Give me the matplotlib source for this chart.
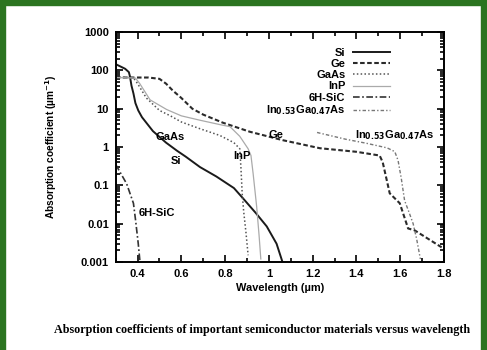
import matplotlib.pyplot as plt
from matplotlib.patches import Rectangle
from matplotlib.ticker import MultipleLocator, LogLocator, NullFormatter, FixedLocator, FixedFormatter

plt.rcParams['font.family'] = ['Liberation Sans', 'DejaVu Sans']
plt.rcParams['font.weight'] = 'bold'
plt.rcParams['axes.labelweight'] = 'bold'

# wavelength (um) / absorption coefficient (1/um)
si_wl = [0.30, 0.343, 0.36, 0.365, 0.372, 0.381, 0.39, 0.403, 0.42, 0.47, 0.53, 0.58, 0.62,
         0.685, 0.76, 0.84, 0.88, 0.94, 0.99, 1.035, 1.062]
si_a = [145, 110, 90, 70, 40, 25, 14, 9, 6.0, 2.6, 1.3, 0.8, 0.56,
        0.30, 0.17, 0.085, 0.047, 0.019, 0.0085, 0.003, 0.001]

ge_wl = [0.30, 0.45, 0.50, 0.53, 0.56, 0.60, 0.65, 0.70, 0.79, 0.913, 1.065, 1.233, 1.40,
         1.506, 1.52, 1.552, 1.598, 1.636, 1.666, 1.79]
ge_a = [65, 65, 60, 45, 30, 19, 10, 7, 4.3, 2.5, 1.5, 0.93, 0.75,
        0.6, 0.4, 0.062, 0.034, 0.0075, 0.0067, 0.0024]

gaas_wl = [0.30, 0.38, 0.40, 0.44, 0.50, 0.55, 0.60, 0.685, 0.776, 0.84, 0.867, 0.872,
           0.878, 0.885, 0.895, 0.905]
gaas_a = [66, 65, 45, 19, 9, 6.5, 4.5, 3.0, 2.0, 1.3, 0.9, 0.3,
          0.06, 0.02, 0.006, 0.0015]

inp_wl = [0.30, 0.39, 0.41, 0.457, 0.533, 0.60, 0.685, 0.78, 0.822, 0.867, 0.905, 0.918,
          0.928, 0.944, 0.955, 0.963]
inp_a = [65, 63, 45, 17, 9.5, 6.5, 5.0, 3.8, 3.4, 1.9, 0.9, 0.6,
         0.2, 0.028, 0.005, 0.0012]

sic_wl = [0.30, 0.32, 0.35, 0.381, 0.391, 0.403, 0.411]
sic_a = [0.35, 0.22, 0.11, 0.034, 0.012, 0.003, 0.001]

ingaas_wl = [1.22, 1.233, 1.35, 1.446, 1.54, 1.575, 1.59, 1.605, 1.62, 1.64, 1.659, 1.675, 1.692]
ingaas_a = [2.4, 2.3, 1.6, 1.25, 0.95, 0.76, 0.45, 0.15, 0.04, 0.02, 0.01, 0.004, 0.0012]

ingaas_tex = r'In$_{\mathbf{0.53}}$Ga$_{\mathbf{0.47}}$As'

fig = plt.figure(figsize=(4.87, 3.5), dpi=100)
# green frame of the slide
fig.patches.append(Rectangle((0, 0), 0.0103, 1, transform=fig.transFigure, color='#2b7420', zorder=-1))
fig.patches.append(Rectangle((0, 0.986), 1, 0.014, transform=fig.transFigure, color='#2b7420', zorder=-1))
fig.patches.append(Rectangle((0.988, 0), 0.012, 1, transform=fig.transFigure, color='#2b7420', zorder=-1))

ax = fig.add_axes([0.2376, 0.2514, 0.6741, 0.6571])

ax.plot(si_wl, si_a, color='#1a1a1a', lw=1.4, label='Si')
ax.plot(ge_wl, ge_a, color='#2a2a2a', lw=1.5, ls=(0, (2.2, 1.2)), label='Ge')
ax.plot(gaas_wl, gaas_a, color='#555555', lw=1.1, ls=(0, (1, 1.5)), label='GaAs')
ax.plot(inp_wl, inp_a, color='#aaaaaa', lw=0.9, label='InP')
ax.plot(sic_wl, sic_a, color='#333333', lw=1.2, ls=(0, (4, 1.5, 1, 1.5)), label='6H-SiC')
ax.plot(ingaas_wl, ingaas_a, color='#777777', lw=1.0, ls=(0, (2.5, 1.5, 1, 1.5)), label=ingaas_tex)

ax.set_yscale('log')
ax.set_xlim(0.3, 1.8)
ax.set_ylim(0.001, 1000)
ax.xaxis.set_major_locator(FixedLocator([0.4, 0.6, 0.8, 1.0, 1.2, 1.4, 1.6, 1.8]))
ax.xaxis.set_major_formatter(FixedFormatter(['0.4', '0.6', '0.8', '1', '1.2', '1.4', '1.6', '1.8']))
ax.xaxis.set_minor_locator(MultipleLocator(0.1))
ax.yaxis.set_minor_locator(LogLocator(base=10, subs=range(2, 10), numticks=20))
ax.yaxis.set_minor_formatter(NullFormatter())
ax.set_yticks([0.001, 0.01, 0.1, 1, 10, 100, 1000])
ax.set_yticklabels(['0.001', '0.01', '0.1', '1', '10', '100', '1000'])
ax.tick_params(which='both', direction='in', top=True, right=True, labelsize=8, width=1.2)
ax.tick_params(which='major', length=5, pad=5)
ax.tick_params(which='minor', length=3)
for s in ax.spines.values():
    s.set_linewidth(1.4)

ax.set_xlabel('Wavelength (µm)', fontsize=7.9, labelpad=3)
ax.set_ylabel(r'Absorption coefficient (µm$^{\mathbf{-1}}$)', fontsize=7.3, labelpad=16)

ax.text(0.547, 1.8, 'GaAs', fontsize=8, ha='center', va='center')
ax.text(0.577, 0.44, 'Si', fontsize=8, ha='center', va='center')
ax.text(0.878, 0.57, 'InP', fontsize=8, ha='center', va='center')
ax.text(1.03, 2.0, 'Ge', fontsize=8, ha='center', va='center')
ax.text(1.575, 2.0, ingaas_tex, fontsize=8, ha='center', va='center')
ax.text(0.487, 0.0186, '6H-SiC', fontsize=8, ha='center', va='center')

leg = ax.legend(loc='upper right', bbox_to_anchor=(0.835, 0.93), frameon=False, markerfirst=False,
                fontsize=8, handlelength=3.3, labelspacing=0.1, handletextpad=0.7,
                borderpad=0, borderaxespad=0)
for col in leg._legend_handle_box.get_children():
    col.align = 'right'

fig.text(0.538, 0.057, 'Absorption coefficients of important semiconductor materials versus wavelength',
         family=['Liberation Serif', 'DejaVu Serif'], fontsize=8.7, weight='bold', ha='center', va='center')

fig.savefig('out.png', dpi=100)
